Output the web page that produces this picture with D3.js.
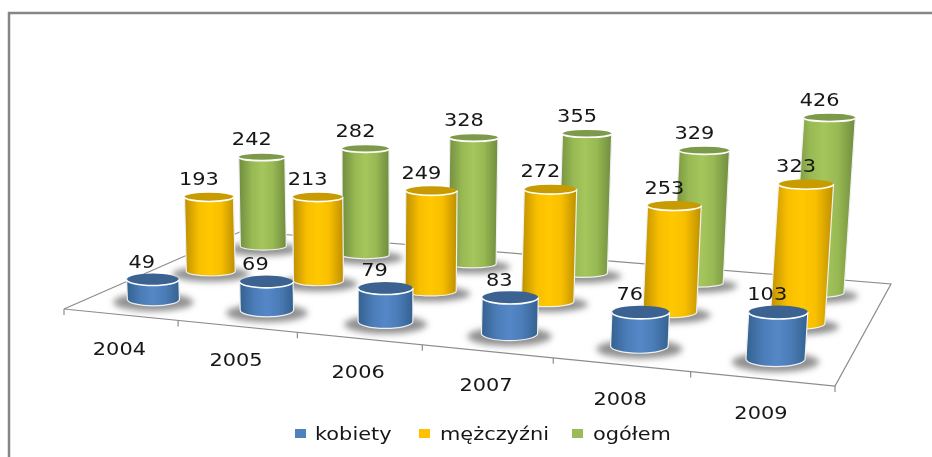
<!DOCTYPE html>
<html>
<head>
<meta charset="utf-8">
<style>
body{margin:0;background:#fff}
svg{display:block}
text{font-family:"DejaVu Sans";fill:#161616}
</style>
</head>
<body>
<svg width="932" height="457"></svg>
<script src="https://d3js.org/d3.v7.min.js"></script>
<script>
var years=["2004","2005","2006","2007","2008","2009"]
var seriesNames=["kobiety","mężczyźni","ogółem"]
var kobiety=[49,69,79,83,76,103]
var mezczyzni=[193,213,249,272,253,323]
var ogolem=[242,282,328,355,329,426]
var seriesValues=[kobiety,mezczyzni,ogolem]
var colEdge=["#33618f","#bd8f00","#6f8c3f"]
var colNear=["#4c7db9","#f8bf00","#98b953"]
var colMid=["#5587c7","#ffc800","#a4c65c"]
var colTop=["#3a6291","#c89b00","#7b9a48"]
var legendCol=["#4f81bd","#ffc000","#9bbb59"]

// floor corners, front left / front right / back right / back left
var FL=[64,309],FR=[835,386],BR=[891,284],BL=[242,231]

function homography(p0,p1,p2,p3){
	var dx1=p1[0]-p2[0],dx2=p3[0]-p2[0],sx=p0[0]-p1[0]+p2[0]-p3[0]
	var dy1=p1[1]-p2[1],dy2=p3[1]-p2[1],sy=p0[1]-p1[1]+p2[1]-p3[1]
	var den=dx1*dy2-dx2*dy1
	var g=(sx*dy2-dx2*sy)/den,h=(dx1*sy-sx*dy1)/den
	var a=p1[0]-p0[0]+g*p1[0],b=p3[0]-p0[0]+h*p3[0]
	var d=p1[1]-p0[1]+g*p1[1],e=p3[1]-p0[1]+h*p3[1]
	return function(u,v){
		var w=g*u+h*v+1
		return [(a*u+b*v+p0[0])/w,(d*u+e*v+p0[1])/w]
	}
}
var floor=homography(FL,FR,BR,BL)

var uScale=d3.scaleBand().domain(years).range([0,1])
var vScale=d3.scaleBand().domain(seriesNames).range([0,1])
var widthScale=d3.scaleLinear().domain([246,358]).range([46,59])
var leanScale=d3.scaleLinear().domain([210,821]).range([-0.025,0.065])
var ryRatio=d3.scaleOrdinal().domain(seriesNames).range([0.115,0.09,0.075])
var heightRatio=d3.scaleOrdinal().domain(seriesNames).range([0.0077,0.00785,0.008])
var xNudge=d3.scaleOrdinal().domain(seriesNames).range([0,-2.5,-3])

var svg=d3.select("svg")
var defs=svg.append("defs")
defs.append("filter").attr("id","shadow").attr("x","-30%").attr("y","-60%").attr("width","160%").attr("height","220%")
	.append("feGaussianBlur").attr("stdDeviation",3)
defs.append("filter").attr("id","soft").attr("x","-5%").attr("y","-5%").attr("width","110%").attr("height","110%")
	.append("feGaussianBlur").attr("stdDeviation",0.45)

seriesNames.forEach(function(s,i){
	var g=defs.append("linearGradient").attr("id","grad"+i)
	g.append("stop").attr("offset","0%").attr("stop-color",colEdge[i])
	g.append("stop").attr("offset","28%").attr("stop-color",colNear[i])
	g.append("stop").attr("offset","50%").attr("stop-color",colMid[i])
	g.append("stop").attr("offset","72%").attr("stop-color",colNear[i])
	g.append("stop").attr("offset","100%").attr("stop-color",colEdge[i])
})

// frame, open on the right and at the bottom
svg.append("path").attr("d","M9,457V13H932").attr("fill","none").attr("stroke","#868686").attr("stroke-width",2.5)

var chart=svg.append("g").attr("filter","url(#soft)")

// floor lines and ticks
chart.append("path")
	.attr("d",d3.line()([FL,BL,BR,FR,FL]))
	.attr("fill","none").attr("stroke","#8c8c8c").attr("stroke-width",1.2)
var ticks=chart.append("g")
years.concat(["end"]).forEach(function(y,i){
	var p=floor(i/years.length,0)
	ticks.append("line").attr("x1",p[0]).attr("x2",p[0]).attr("y1",p[1]).attr("y2",p[1]+6)
		.attr("stroke","#8c8c8c").attr("stroke-width",1.2)
})

var cyl=[]
seriesNames.forEach(function(s,i){
	years.forEach(function(y,j){
		var u=uScale(y)+uScale.bandwidth()/2
		var v=vScale(s)+vScale.bandwidth()/2
		var p=floor(u,v)
		var w=widthScale(p[1])
		var h=seriesValues[i][j]*heightRatio(s)*w
		var lean=leanScale(p[0])*h
		var x=p[0]+xNudge(s)
		cyl.push({i:i,j:j,x:x,y:p[1],rx:w/2,ry:w*ryRatio(s),tx:x+lean,ty:p[1]-h,value:seriesValues[i][j]})
	})
})
// back row first
cyl.sort(function(a,b){return b.i-a.i||a.j-b.j})

var marks=chart.selectAll("g.cyl").data(cyl).enter().append("g").attr("class","cyl")
marks.append("ellipse").attr("cx",function(d){return d.x}).attr("cy",function(d){return d.y+3})
	.attr("rx",function(d){return d.rx+14}).attr("ry",function(d){return d.ry+3})
	.attr("fill","#909090").attr("filter","url(#shadow)")
marks.append("path")
	.attr("d",function(d){
		var rb=d.ry*1.1
		return "M"+(d.tx-d.rx)+","+d.ty+"L"+(d.x-d.rx)+","+d.y
			+"A"+d.rx+","+rb+" 0 0 0 "+(d.x+d.rx)+","+d.y
			+"L"+(d.tx+d.rx)+","+d.ty+"Z"
	})
	.attr("fill",function(d){return "url(#grad"+d.i+")"})
	.attr("stroke","#f0f0f0").attr("stroke-width",1.2)
marks.append("ellipse").attr("cx",function(d){return d.tx}).attr("cy",function(d){return d.ty})
	.attr("rx",function(d){return d.rx}).attr("ry",function(d){return d.ry})
	.attr("fill",function(d){return colTop[d.i]})
// white rim on the front of the top only
marks.append("path")
	.attr("d",function(d){
		return "M"+(d.tx-d.rx)+","+d.ty+"A"+d.rx+","+d.ry+" 0 0 0 "+(d.tx+d.rx)+","+d.ty
	})
	.attr("fill","none").attr("stroke","#fff").attr("stroke-width",1.6)

// stretches a label sideways, the original type is wider than DejaVu
function widen(sel){
	sel.attr("textLength",function(){return this.getComputedTextLength()*1.16}).attr("lengthAdjust","spacingAndGlyphs")
}

// labels go above every cylinder
chart.selectAll("text.val").data(cyl).enter().append("text").attr("class","val")
	.attr("x",function(d){return d.tx-(d.i==0?11:10)}).attr("y",function(d){return d.ty-12})
	.attr("text-anchor","middle").attr("font-size",18)
	.text(function(d){return d.value})
	.call(widen)

chart.selectAll("text.year").data(years).enter().append("text").attr("class","year")
	.attr("x",function(d){return floor(uScale(d)+uScale.bandwidth()/2,0)[0]-1})
	.attr("y",function(d){return floor(uScale(d)+uScale.bandwidth()/2,0)[1]+40})
	.attr("text-anchor","middle").attr("font-size",18)
	.text(function(d){return d})
	.call(widen)

// legend
var legendX=d3.scaleOrdinal().domain(seriesNames).range([295,419,572])
var legend=chart.selectAll("g.leg").data(seriesNames).enter().append("g").attr("class","leg")
	.attr("transform",function(d){return "translate("+legendX(d)+",429)"})
legend.append("rect").attr("width",11).attr("height",9).attr("fill",function(d,i){return legendCol[i]})
legend.append("text").attr("x",function(d,i){return i==0?20:21}).attr("y",11).attr("font-size",18).text(function(d){return d})
	.call(widen)
</script>
</body>
</html>
